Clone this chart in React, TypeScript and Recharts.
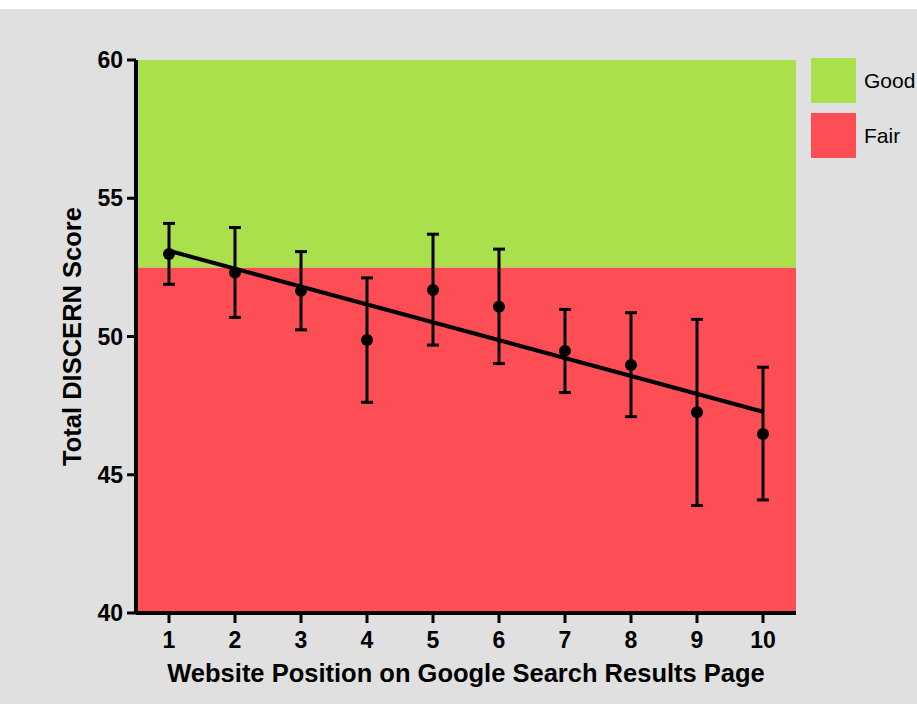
import React from 'react';
import {
  ComposedChart,
  XAxis,
  YAxis,
  Line,
  Scatter,
  ErrorBar,
  ReferenceArea,
  Legend,
} from 'recharts';

const positions = [1, 2, 3, 4, 5, 6, 7, 8, 9, 10];
const meanScores = [52.98, 52.31, 51.65, 49.87, 51.68, 51.08, 49.48, 48.97, 47.26, 46.47];
const upperBounds = [54.09, 53.94, 53.07, 52.12, 53.7, 53.16, 50.98, 50.86, 50.62, 48.89];
const lowerBounds = [51.89, 50.69, 50.24, 47.62, 49.69, 49.02, 47.97, 47.1, 43.89, 44.09];
const trendPositions = [1, 10];
const trendScores = [53.1, 47.28];
const yTicks = [40, 45, 50, 55, 60];
const yDomain = [40, 60];
const xDomain = [0.5, 10.5];
const goodThreshold = 52.5;
const bandLabels = ['Good', 'Fair'];

const GREEN = '#a9e04c';
const RED = '#fe4e55';
const FONT = '"Liberation Sans", Arial, Helvetica, sans-serif';

const data = positions.map((p, i) => {
  const ti = trendPositions.indexOf(p);
  return {
    position: p,
    mean: meanScores[i],
    err: [meanScores[i] - lowerBounds[i], upperBounds[i] - meanScores[i]],
    trend: ti >= 0 ? trendScores[ti] : null,
  };
});

const legendItems = [
  { label: bandLabels[0], color: GREEN },
  { label: bandLabels[1], color: RED },
];

const LegendContent = () => (
  <div style={{ fontFamily: FONT }}>
    {legendItems.map((it, i) => (
      <div
        key={it.label}
        style={{ display: 'flex', alignItems: 'center', height: 45, marginBottom: i === 0 ? 10 : 0 }}
      >
        <div style={{ width: 45, height: 45, background: it.color, flex: '0 0 auto' }} />
        <span style={{ marginLeft: 8, fontSize: 21, color: '#000', whiteSpace: 'nowrap' }}>{it.label}</span>
      </div>
    ))}
  </div>
);

const YTitle = (props: any) => {
  const vb = props.viewBox || {};
  const cx = vb.x + 72;
  const cy = vb.y + vb.height / 2;
  return (
    <text
      x={cx}
      y={cy}
      transform={`rotate(-90 ${cx} ${cy})`}
      textAnchor="middle"
      dominantBaseline="central"
      fontFamily={FONT}
      fontWeight="bold"
      fontSize={25.5}
      fill="#000"
    >
      Total DISCERN Score
    </text>
  );
};

const XTitle = (props: any) => {
  const vb = props.viewBox || {};
  const cx = vb.x + vb.width / 2;
  const y = vb.y + 69;
  return (
    <text
      x={cx}
      y={y}
      textAnchor="middle"
      fontFamily={FONT}
      fontWeight="bold"
      fontSize={25.5}
      fill="#000"
    >
      Website Position on Google Search Results Page
    </text>
  );
};

const TickText = (props: any) => {
  const { x, y, payload, textAnchor } = props;
  const isY = textAnchor === 'end';
  return (
    <text
      x={x}
      y={isY ? y : y - 1}
      textAnchor={textAnchor}
      dominantBaseline={isY ? 'central' : 'hanging'}
      fontFamily={FONT}
      fontWeight="bold"
      fontSize={23}
      fill="#000"
    >
      {payload.value}
    </text>
  );
};

const Dot = (p: any) => <circle cx={p.cx} cy={p.cy} r={6} fill="#000" />;

export default function App() {
  return (
    <div style={{ position: 'absolute', left: 0, top: 0, width: 917, height: 704, background: '#ffffff', overflow: 'hidden' }}>
      <div style={{ position: 'absolute', left: 0, top: 9, width: 917, height: 695, background: '#e0e0e0' }} />
      <div style={{ position: 'absolute', left: 0, top: 0 }}>
        <ComposedChart
          width={917}
          height={704}
          data={data}
          margin={{ top: 60, right: 121, bottom: 0, left: 0 }}
        >
          <ReferenceArea y1={yDomain[0]} y2={goodThreshold} fill={RED} fillOpacity={1} stroke="none" />
          <ReferenceArea y1={goodThreshold} y2={yDomain[1]} fill={GREEN} fillOpacity={1} stroke="none" />
          <XAxis
            type="number"
            dataKey="position"
            domain={xDomain}
            ticks={positions}
            height={91}
            axisLine={{ stroke: '#000', strokeWidth: 4 }}
            tickLine={{ stroke: '#000', strokeWidth: 3 }}
            tickSize={10}
            tickMargin={9}
            tick={TickText}
            label={{ content: XTitle }}
          />
          <YAxis
            type="number"
            domain={yDomain}
            ticks={yTicks}
            width={136}
            axisLine={{ stroke: '#000', strokeWidth: 4 }}
            tickLine={{ stroke: '#000', strokeWidth: 3 }}
            tickSize={9}
            tickMargin={4}
            tick={TickText}
            label={{ content: YTitle }}
          />
          <Line
            dataKey="trend"
            type="linear"
            stroke="#000"
            strokeWidth={4}
            dot={false}
            activeDot={false}
            connectNulls
            isAnimationActive={false}
          />
          <Scatter dataKey="mean" fill="#000" shape={Dot} isAnimationActive={false}>
            <ErrorBar dataKey="err" direction="y" width={6} stroke="#000" strokeWidth={3} />
          </Scatter>
          <Legend
            layout="horizontal"
            verticalAlign="middle"
            align="center"
            content={LegendContent}
            wrapperStyle={{ left: 811, top: 58, width: 106 }}
          />
        </ComposedChart>
      </div>
    </div>
  );
}
